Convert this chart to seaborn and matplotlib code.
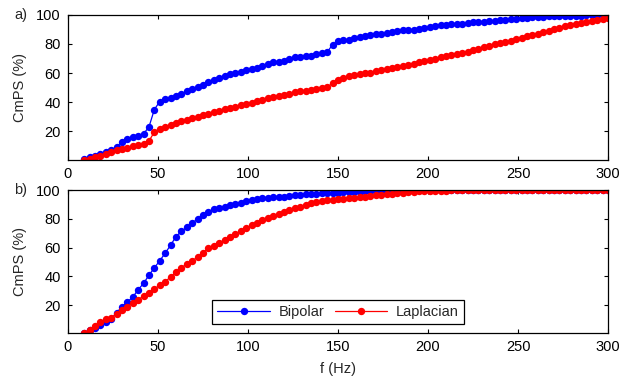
import matplotlib
matplotlib.use("Agg")
import matplotlib.pyplot as plt
import pandas as pd
import seaborn as sns

# frequency bins (Hz)
freq = [9, 12, 15, 18, 21, 24, 27, 30, 33, 36, 39, 42, 45, 48, 51, 54, 57, 60,
        63, 66, 69, 72, 75, 78, 81, 84, 87, 90, 93, 96, 99, 102, 105, 108, 111,
        114, 117, 120, 123, 126, 129, 132, 135, 138, 141, 144, 147, 150, 153,
        156, 159, 162, 165, 168, 171, 174, 177, 180, 183, 186, 189, 192, 195,
        198, 201, 204, 207, 210, 213, 216, 219, 222, 225, 228, 231, 234, 237,
        240, 243, 246, 249, 252, 255, 258, 261, 264, 267, 270, 273, 276, 279,
        282, 285, 288, 291, 294, 297, 300]

# panel a)
bipolar_a = [1.0, 2.2, 3.1, 4.5, 5.9, 7.2, 9.6, 12.7, 14.7, 16.1, 17.1, 18.4,
             23.0, 35.0, 40.5, 41.9, 42.9, 44.1, 45.8, 47.4, 48.9, 50.3, 52.1,
             53.7, 55.3, 56.8, 58.1, 59.2, 59.9, 60.7, 61.8, 62.8, 63.7, 64.8,
             66.2, 67.3, 67.5, 68.4, 69.5, 70.7, 70.8, 71.4, 72.0, 73.2, 73.7,
             74.4, 79.5, 81.7, 82.4, 83.0, 84.0, 84.8, 85.4, 86.1, 86.7, 86.9,
             87.3, 88.0, 88.8, 89.2, 89.7, 89.8, 90.4, 91.0, 91.9, 92.6, 92.9,
             93.1, 93.4, 93.6, 93.9, 94.3, 94.8, 95.1, 95.2, 95.6, 95.9, 96.3,
             96.6, 96.9, 97.4, 97.7, 98.0, 98.2, 98.5, 98.7, 99.0, 99.1, 99.1,
             99.2, 99.3, 99.3, 99.4, 99.8, 99.9, 99.9, 99.9, 100.0]
laplacian_a = [0.5, 1.2, 2.4, 3.5, 4.6, 5.8, 7.1, 8.2, 8.9, 9.8, 10.5, 11.2,
               13.5, 19.5, 22.0, 23.1, 24.2, 25.6, 26.9, 28.0, 28.9, 30.0, 31.1,
               32.3, 33.3, 34.2, 35.1, 36.3, 36.9, 37.9, 38.8, 39.7, 40.6, 41.6,
               42.8, 43.5, 44.4, 45.3, 46.0, 46.7, 47.4, 47.8, 48.5, 49.4, 49.8,
               50.5, 53.0, 55.5, 56.8, 57.9, 58.5, 59.4, 60.0, 60.4, 61.2, 62.0,
               62.8, 63.5, 64.2, 65.0, 65.6, 66.2, 67.3, 68.4, 69.2, 69.9, 70.9,
               71.6, 72.3, 73.3, 74.0, 74.8, 75.6, 76.8, 77.9, 78.9, 79.8, 80.6,
               81.4, 82.3, 83.3, 84.2, 85.1, 86.1, 87.1, 88.2, 89.1, 90.1, 91.1,
               92.1, 93.0, 93.8, 94.5, 95.2, 95.7, 96.3, 96.9, 97.6]

# panel b)
bipolar_b = [0.6, 2.4, 4.3, 6.2, 8.3, 10.3, 14.5, 18.9, 22.1, 25.5, 30.6, 35.1,
             40.7, 45.9, 50.8, 56.1, 61.6, 67.6, 71.3, 74.0, 77.1, 79.8, 82.5,
             85.1, 86.6, 87.5, 88.5, 89.5, 90.4, 91.3, 92.2, 93.0, 93.7, 94.2,
             94.6, 95.0, 95.2, 95.5, 96.0, 96.5, 96.8, 97.0, 97.2, 97.5, 97.7,
             97.9, 98.1, 98.3, 98.5, 98.7, 98.9, 99.0, 99.1, 99.2, 99.3, 99.4,
             99.5, 99.6, 99.6, 99.7, 99.7, 99.8, 99.8, 99.9, 99.9, 100.0, 100.0,
             100.0, 100.0, 100.0, 100.0, 100.0, 100.0, 100.0, 100.0, 100.0,
             100.0, 100.0, 100.0, 100.0, 100.0, 100.0, 100.0, 100.0, 100.0,
             100.0, 100.0, 100.0, 100.0, 100.0, 100.0, 100.0, 100.0, 100.0,
             100.0, 100.0, 100.0, 100.0]
laplacian_b = [0.5, 2.5, 5.1, 8.0, 10.0, 11.0, 13.9, 16.3, 18.7, 21.2, 23.6,
               26.2, 28.7, 31.2, 33.7, 36.3, 39.5, 43.0, 46.1, 48.4, 50.6, 53.5,
               56.5, 59.4, 61.4, 63.1, 65.3, 67.2, 69.3, 71.6, 73.4, 75.4, 77.4,
               79.3, 80.5, 81.7, 83.3, 84.6, 86.0, 87.4, 88.5, 89.7, 90.8, 91.5,
               92.4, 92.9, 93.3, 93.6, 93.9, 94.2, 94.6, 95.0, 95.5, 95.9, 96.5,
               96.9, 97.3, 97.6, 97.8, 98.2, 98.4, 98.7, 99.1, 99.3, 99.3, 99.5,
               99.6, 99.7, 99.8, 99.8, 99.9, 99.9, 100.0, 100.0, 100.0, 100.0,
               100.0, 100.0, 100.0, 100.0, 100.0, 100.0, 100.0, 100.0, 100.0,
               100.0, 100.0, 100.0, 100.0, 100.0, 100.0, 100.0, 100.0, 100.0,
               100.0, 100.0, 100.0, 100.0]

xticks = [0, 50, 100, 150, 200, 250, 300]
yticks = [20, 40, 60, 80, 100]

sns.set_style("ticks")
plt.rcParams['font.family'] = ['Liberation Sans', 'DejaVu Sans']
fs = 10.5

fig = plt.figure(figsize=(6.23, 3.78), dpi=100)
ax_a = fig.add_axes([0.109, 0.577, 0.867, 0.384])
ax_b = fig.add_axes([0.109, 0.119, 0.867, 0.378])

panels = [(ax_a, bipolar_a, laplacian_a, "a)"),
          (ax_b, bipolar_b, laplacian_b, "b)")]

for ax, bip, lap, tag in panels:
    df = pd.DataFrame({"f": freq, "Bipolar": bip, "Laplacian": lap})
    sns.lineplot(data=df, x="f", y="Bipolar", color=(0, 0, 1), marker="o",
                 markersize=5.3, markeredgewidth=0, linewidth=0.9,
                 label="Bipolar", ax=ax)
    sns.lineplot(data=df, x="f", y="Laplacian", color=(1, 0, 0), marker="o",
                 markersize=5.3, markeredgewidth=0, linewidth=0.9,
                 label="Laplacian", ax=ax)
    ax.set_xlim(0, 300)
    ax.set_ylim(0.5, 100)
    ax.set_xticks(xticks)
    ax.set_yticks(yticks)
    ax.tick_params(direction="in", top=True, right=True, length=3,
                   width=0.8, labelsize=fs, colors="black", pad=5)
    for s in ax.spines.values():
        s.set_linewidth(0.9)
        s.set_color("black")
    ax.set_ylabel("CmPS (%)", fontsize=fs, labelpad=7)
    ax.set_xlabel("")
    ax.text(-0.1, 1.0, tag, transform=ax.transAxes, fontsize=fs,
            ha="left", va="center")
    ax.get_legend().remove()

ax_b.set_xlabel("f (Hz)", fontsize=fs, labelpad=6)
leg = ax_b.legend(loc="lower center", bbox_to_anchor=(0.5, 0.012), ncol=2,
                  frameon=True, fancybox=False, edgecolor="black",
                  handlelength=3.6, columnspacing=0.7, handletextpad=0.6,
                  borderpad=0.35, fontsize=fs)
leg.get_frame().set_linewidth(0.9)
leg.get_frame().set_alpha(1)

fig.savefig("out.png", dpi=100)
